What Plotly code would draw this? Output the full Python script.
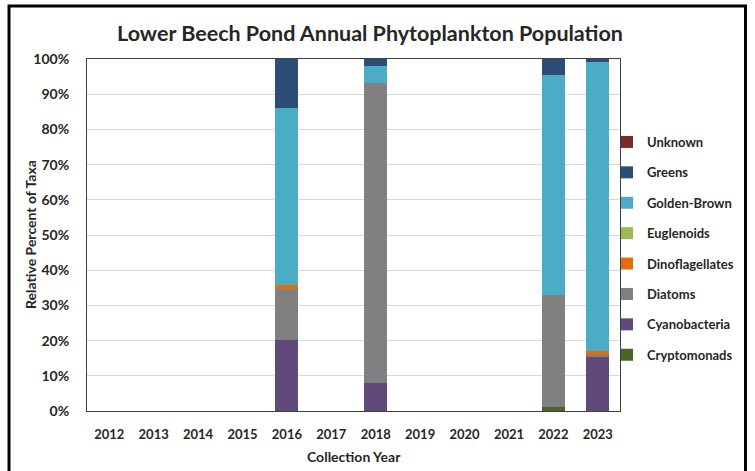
import plotly.graph_objects as go

years = ["2012", "2013", "2014", "2015", "2016", "2017",
         "2018", "2019", "2020", "2021", "2022", "2023"]

# Relative percent of taxa per collection year (0 where no sample)
cryptomonads     = [0, 0, 0, 0, 0.0,  0, 0.0,  0, 0, 0, 1.0,  0.0]
cyanobacteria    = [0, 0, 0, 0, 20.2, 0, 8.0,  0, 0, 0, 0.0,  15.3]
diatoms          = [0, 0, 0, 0, 14.5, 0, 85.3, 0, 0, 0, 32.0, 0.7]
dinoflagellates  = [0, 0, 0, 0, 1.2,  0, 0.0,  0, 0, 0, 0.0,  1.0]
euglenoids       = [0, 0, 0, 0, 0.0,  0, 0.0,  0, 0, 0, 0.0,  0.0]
golden_brown     = [0, 0, 0, 0, 50.1, 0, 4.7,  0, 0, 0, 62.5, 82.2]
greens           = [0, 0, 0, 0, 14.0, 0, 2.0,  0, 0, 0, 4.5,  0.8]
unknown          = [0, 0, 0, 0, 0.0,  0, 0.0,  0, 0, 0, 0.0,  0.0]

series = [
    ("Cryptomonads", cryptomonads, "#4F6228"),
    ("Cyanobacteria", cyanobacteria, "#604A7B"),
    ("Diatoms", diatoms, "#808080"),
    ("Dinoflagellates", dinoflagellates, "#E46C0A"),
    ("Euglenoids", euglenoids, "#9BBB59"),
    ("Golden-Brown", golden_brown, "#4BACC6"),
    ("Greens", greens, "#2C4D75"),
    ("Unknown", unknown, "#772C2A"),
]

FONT = "Lato"
TXT = "#262626"

# plot area in pixels
L, R, T, B = 87, 620, 59, 411
W, H = R - L, B - T

fig = go.Figure()
n = len(series)
for i, (name, vals, color) in enumerate(series):
    fig.add_trace(go.Bar(
        x=years, y=[v / 100 for v in vals], name=name,
        marker=dict(color=color, line=dict(width=0)),
        legendgroup=name, legendrank=1000 + (n - i),
    ))

fig.update_layout(
    width=755, height=471,
    barmode="stack", bargap=0.48,
    paper_bgcolor="white", plot_bgcolor="white",
    margin=dict(l=L, r=755 - R, t=T, b=471 - B, autoexpand=False),
    font=dict(family=FONT, color=TXT),
    title=dict(
        text="<b>Lower Beech Pond Annual Phytoplankton Population</b>",
        x=370 / 755, xanchor="center", y=1 - 33 / 471, yanchor="middle",
        font=dict(size=21.5, family=FONT, color=TXT),
    ),
    legend=dict(
        traceorder="grouped", tracegroupgap=10.5,
        x=(607 - L) / W, xanchor="left", y=(B - 127) / H, yanchor="top",
        font=dict(size=13, family=FONT, color=TXT, weight="bold"),
        bgcolor="rgba(0,0,0,0)", itemwidth=30,
    ),
    showlegend=True,
)

fig.update_xaxes(
    type="category",
    showline=True, mirror=True, linecolor="#404040", linewidth=1,
    showgrid=False, ticks="",
    tickfont=dict(size=13, family=FONT, color=TXT, weight="bold"),
    ticklabelstandoff=11,
)
fig.update_yaxes(
    range=[0, 1], tickvals=[i / 10 for i in range(11)], tickformat=".0%",
    showline=True, mirror=True, linecolor="#404040", linewidth=1,
    showgrid=True, gridcolor="#D9D9D9", gridwidth=1,
    zeroline=False, ticks="",
    tickfont=dict(size=14, family=FONT, color=TXT, weight="bold"),
    ticklabelstandoff=14,
)

# axis titles
fig.add_annotation(
    text="<b>Collection Year</b>", xref="paper", yref="paper",
    x=(354 - L) / W, y=(B - 456) / H, xanchor="center", yanchor="middle",
    showarrow=False, font=dict(size=14, family=FONT, color=TXT),
)
fig.add_annotation(
    text="<b>Relative Percent of Taxa</b>", xref="paper", yref="paper",
    x=(30 - L) / W, y=(B - 235) / H, xanchor="center", yanchor="middle",
    textangle=-90, showarrow=False, font=dict(size=14, family=FONT, color=TXT),
)

# outer frame around the whole chart
fig.add_shape(
    type="rect", xref="paper", yref="paper",
    x0=(9 - L) / W, x1=(745.5 - L) / W,
    y0=(B - 476) / H, y1=(B - 6) / H,
    line=dict(color="black", width=3), fillcolor="rgba(0,0,0,0)", layer="above",
)

fig.write_html("out.html")
